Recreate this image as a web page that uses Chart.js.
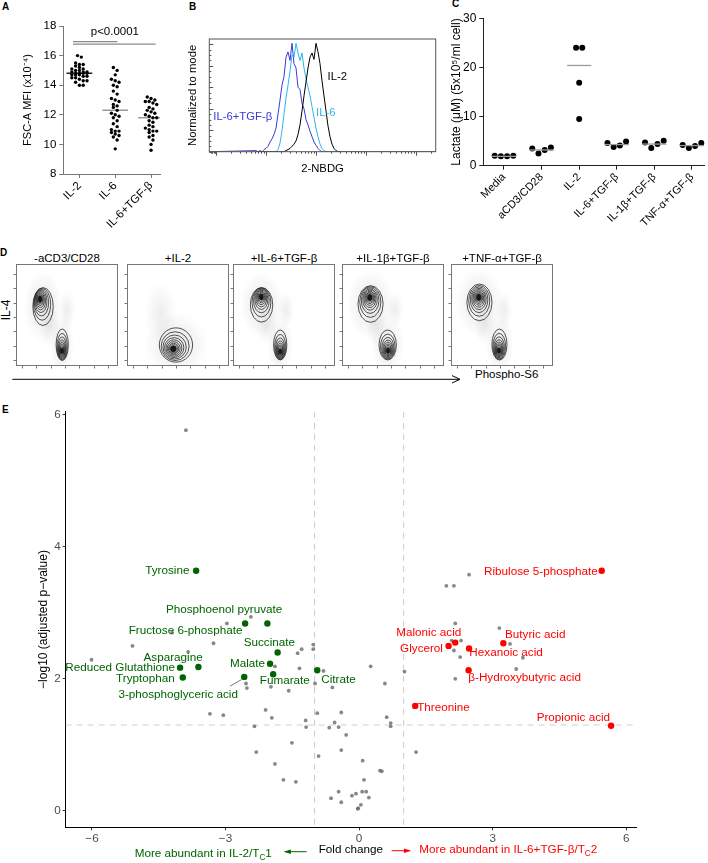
<!DOCTYPE html>
<html>
<head>
<meta charset="utf-8">
<title>Figure</title>
<script src="https://cdn.jsdelivr.net/npm/chart.js@4.4.1/dist/chart.umd.min.js"></script>
<style>
  html, body { margin:0; padding:0; background:#fff; }
  body { width:708px; height:863px; position:relative; overflow:hidden; font-family:"Liberation Sans", Arial, Helvetica, sans-serif; }
  canvas { position:absolute; }
  .t { position:absolute; white-space:nowrap; color:#000; line-height:1; }
  .pl { font-weight:bold; font-size:10px; }
  .dt { position:absolute; text-align:center; font-size:11.5px; line-height:14px; white-space:nowrap; }
</style>
</head>
<body>
<div class="t pl" style="left:2px;top:2px">A</div>
<div class="t pl" style="left:189px;top:2px">B</div>
<div class="t pl" style="left:452px;top:-1px">C</div>
<div class="t pl" style="left:0px;top:248px">D</div>
<div class="t pl" style="left:2px;top:405px">E</div>
<div class="t" style="left:-4px;top:304px;font-size:12px;transform:rotate(-90deg);transform-origin:center">IL-4</div>
<svg style="position:absolute;left:0;top:370px" width="470" height="20">
  <line x1="12.3" y1="9.3" x2="459" y2="9.3" stroke="#000" stroke-width="1"/>
  <polyline points="452,5.6 460,9.3 452,13" fill="none" stroke="#000" stroke-width="1"/>
</svg>
<div class="t" style="left:475px;top:369px;font-size:11.5px">Phospho-S6</div>
<script>
// ================= DATA =================
// Panel A
const groupsA = ['IL-2', 'IL-6', 'IL-6+TGF-β'];
const yTicksA = [8, 10, 12, 14, 16, 18];
const fscIL2 = [16.0,15.9,15.5,15.4,15.4,15.3,15.2,15.1,15.1,15.0,15.0,14.9,14.9,14.9,14.8,14.8,14.8,14.8,14.7,14.7,14.7,14.6,14.6,14.5,14.5,14.4,14.3,14.3,14.2,14.0,14.0];
const fscIL6 = [15.2,15.0,14.7,14.4,14.3,14.2,14.0,13.9,13.6,13.4,13.1,13.0,12.9,12.7,12.6,12.5,12.3,12.1,12.0,11.9,11.8,11.6,11.4,11.2,11.0,10.9,10.9,10.8,10.7,10.6,10.5,10.3,9.7];
const fscIL6TGFb = [13.2,13.1,13.0,12.9,12.9,12.8,12.7,12.5,12.4,12.3,12.2,12.1,12.0,11.9,11.8,11.8,11.6,11.5,11.3,11.2,11.1,11.0,10.9,10.9,10.8,10.6,10.5,10.3,10.0,9.6];
const meanA = [14.8, 12.3, 11.8];
const pTextA = 'p<0.0001';

// Panel B (2-NBDG histograms, x = log10 fluorescence, y = % of mode)
const nbdgLog = [0.80,0.84,0.88,0.92,0.96,1.00,1.04,1.08,1.12,1.16,1.20,1.24,1.28,1.32,1.36,1.40,1.44,1.48,1.52,1.56,1.60,1.64,1.68,1.72,1.76,1.80,1.84,1.88,1.92,1.96,2.00,2.04,2.08,2.12,2.16,2.20,2.24,2.28,2.32,2.36,2.40,2.44,2.48];
const histIL6TGFb = [1,0,1,0,2,3,5,9,12,16,22,35,48,62,70,88,93,85,101,82,78,60,58,45,40,30,25,19,14,9,6,3,1,0,0,0,0,0,0,0,0,0,0];
const histIL6 = [0,0,0,0,0,0,0,0,0,0,0,2,8,20,35,50,62,75,90,88,101,92,85,92,78,68,60,52,42,32,22,14,7,3,1,0,0,0,0,0,0,0,0];
const histIL2 = [0,0,0,0,0,0,0,0,0,0,0,0,0,0,0,1,2,3,5,7,10,16,25,38,52,65,78,88,92,86,101,93,82,66,52,38,24,14,7,3,1,0,0];
const histNames = ['IL-2', 'IL-6', 'IL-6+TGF-β'];

// Panel C
const groupsC = ['Media', 'aCD3/CD28', 'IL-2', 'IL-6+TGF-β', 'IL-1β+TGF-β', 'TNF-α+TGF-β'];
const yTicksC = [0, 10, 20, 30];
const lactMedia = [2.0, 1.9, 1.9, 2.0];
const lactCD3 = [3.5, 2.5, 3.2, 3.7];
const lactIL2 = [24.0, 24.0, 16.9, 9.5];
const lactIL6TGFb = [4.6, 3.8, 4.1, 4.9];
const lactIL1bTGFb = [4.7, 3.6, 4.4, 5.1];
const lactTNFaTGFb = [4.2, 3.6, 4.0, 4.6];
const meanC = [1.9, 3.2, 20.4, 4.3, 4.4, 4.1];

// Panel D (contour clusters: coreX, coreY, outerX, outerY, spreadX, spreadY in % of axis)
const flowTitles = ['-aCD3/CD28', '+IL-2', '+IL-6+TGF-β', '+IL-1β+TGF-β', '+TNF-α+TGF-β'];
const flowClusters = [
  [[23.5, 65.7, 26.5, 58.3, 10.0, 18.6], [45.0, 14.7, 45.3, 20.8, 6.0, 15.5]],
  [[45.4, 16.7, 48.0, 20.6, 16.3, 16.8]],
  [[27.7, 68.0, 28.0, 60.0, 11.0, 17.0], [46.3, 14.0, 46.3, 20.6, 6.5, 14.7]],
  [[27.2, 67.4, 28.0, 60.8, 12.3, 18.0], [45.1, 15.0, 44.8, 20.6, 8.5, 14.7]],
  [[27.2, 67.4, 27.9, 62.4, 12.3, 18.0], [46.9, 15.0, 47.5, 21.0, 7.4, 15.2]]
];
// sparse event clouds (centreX, centreY, spreadX, spreadY in % of axis)
const flowClouds = [
  [[33, 40, 10, 22], [50, 55, 8, 20]],
  [[33, 52, 16, 30]],
  [[33, 40, 10, 20], [52, 55, 8, 18]],
  [[33, 40, 10, 20], [52, 55, 8, 18]],
  [[33, 40, 10, 20], [52, 55, 8, 18]]
];

// Panel E (volcano)
const xTicksE = [-6, -3, 0, 3, 6];
const yTicksE = [0, 2, 4, 6];
const fcCut = [-1, 1];
const pCut = 1.3;
const grayFC = [-3.89,-2.43,-2.97,-4.20,-5.09,-3.27,-3.84,-6.01,-1.29,-1.38,-1.03,-1.03,-1.89,-1.34,-0.80,-2.54,-2.52,-1.98,-1.58,-0.99,-0.60,-3.35,-3.05,-2.10,-1.96,-2.35,-1.20,-1.19,-0.94,-0.40,-0.55,-0.67,-0.46,-0.29,-2.31,-1.51,-0.91,-0.40,-1.89,-1.70,-1.42,-0.63,-0.46,-0.40,-0.16,-0.07,-0.02,0.26,0.58,1.02,0.62,0.71,0.71,1.28,0.08,0.47,0.51,0.11,0.07,0.16,0.22,0.04,-0.03,1.96,2.13,2.47,2.16,3.15,2.08,2.29,2.13,3.39,2.27,3.68,3.53,2.16];
const grayP = [5.77,2.94,2.84,2.70,2.50,2.54,2.41,2.29,2.45,2.39,2.45,2.52,2.19,2.16,2.12,1.93,1.86,1.88,1.82,1.93,1.87,1.47,1.45,1.53,1.41,1.28,1.37,1.27,1.48,1.49,1.34,1.26,1.27,1.15,0.89,1.03,0.83,0.92,0.71,0.47,0.44,0.19,0.29,0.13,0.23,0.26,0.04,2.19,1.93,2.11,1.42,1.33,1.28,0.89,0.76,0.61,0.60,0.47,0.29,0.29,0.20,0.09,0.03,3.41,3.41,3.58,2.84,2.77,2.58,2.58,2.43,2.53,2.33,2.32,2.15,2.00];
const greenNames = ['Tyrosine','Fructose 6-phosphate','Phosphoenol pyruvate','Succinate','Asparagine','Reduced Glutathione','Malate','Tryptophan','Fumarate','Citrate','3-phosphoglyceric acid'];
const greenFC = [-3.66,-2.56,-2.06,-1.83,-3.61,-4.02,-2.00,-3.96,-1.93,-0.94,-2.58];
const greenP = [3.64,2.84,2.84,2.40,2.18,2.17,2.23,2.02,2.07,2.13,2.03];
const redNames = ['Ribulose 5-phosphate','Malonic acid','Glycerol','Butyric acid','Hexanoic acid','β-Hydroxybutyric acid','Threonine','Propionic acid'];
const redFC = [5.45,2.16,2.01,3.24,2.47,2.46,1.26,5.66];
const redP = [3.64,2.55,2.50,2.54,2.46,2.13,1.59,1.29];

// label placement (align, dx px, dy px) – layout only
const greenLab = [['right',-6.7,0],['right',-2.7,7.7],['center',-43.3,-13.3],['center',-8.3,-10],['center',-25.3,-9.6],['right',-5,0.3],['right',-5,0],['right',-8,1.3],['center',11.7,7],['left',4,9.3],['right',-6.3,18]];
const redLab = [['right',-4,1.3],['center',-26.5,-9.4],['right',-5.6,3],['left',1.7,-8.7],['left',0.3,4.4],['left',-0.3,7.7],['left',2,1.7],['right',-1,-7.7]];

// ================= HELPERS =================
const FONT = '"Liberation Sans", Arial, Helvetica, sans-serif';
Chart.defaults.font.family = FONT;
Chart.defaults.color = '#000';
Chart.defaults.animation = false;
Chart.defaults.plugins.legend.display = false;
Chart.defaults.plugins.tooltip.enabled = false;

function cv(left, top, w, h) {
  const c = document.createElement('canvas');
  c.width = w; c.height = h;
  c.style.left = left + 'px'; c.style.top = top + 'px';
  c.style.width = w + 'px'; c.style.height = h + 'px';
  document.body.appendChild(c);
  return c;
}
const fixTicks = arr => s => { s.ticks = arr.map(v => ({ value: v })); };
const fitW = w => s => { s.width = w; };
const fitH = h => s => { s.height = h; };

function rowsLayout(vals, rowH, sep, maxPerRow) {
  const idx = vals.map((v, i) => i).sort((a, b) => vals[a] - vals[b] || a - b);
  const off = new Array(vals.length).fill(0);
  let row = [], start = null;
  const flush = () => {
    row.sort((a, b) => a - b);
    row.forEach((i, j) => { off[i] = (j - (row.length - 1) / 2) * sep; });
    row = [];
  };
  idx.forEach(i => {
    if (start === null || vals[i] - start >= rowH || row.length >= maxPerRow) { flush(); start = vals[i]; }
    row.push(i);
  });
  flush();
  return off;
}

function drawSubText(ctx, parts, x, y, align, size, color) {
  ctx.save();
  ctx.fillStyle = color; ctx.textBaseline = 'middle';
  const w = parts.map(p => { ctx.font = (p.sub ? size * 0.7 : size) + 'px ' + FONT; return ctx.measureText(p.t).width; });
  const total = w.reduce((a, b) => a + b, 0);
  let cx = align === 'right' ? x - total : (align === 'center' ? x - total / 2 : x);
  ctx.textAlign = 'left';
  parts.forEach((p, i) => {
    ctx.font = (p.sub ? size * 0.7 : size) + 'px ' + FONT;
    ctx.fillText(p.t, cx, p.sub ? y + size * 0.3 : y);
    cx += w[i];
  });
  ctx.restore();
}

const axisStyle = (col) => ({
  grid: { display: true, drawOnChartArea: false, drawTicks: true, tickLength: 4, color: col, lineWidth: 1 },
  border: { display: true, color: col, width: 1 }
});

// ================= PANEL A =================
(function () {
  const c = cv(0, 0, 170, 245);
  const valsA = [fscIL2, fscIL6, fscIL6TGFb];
  const xpu = 35.8, ypu = 14.8;
  const ds = [];
  valsA.forEach((vals, g) => {
    const off = rowsLayout(vals, 3.6 / ypu, 3.8 / xpu, 5);
    ds.push({ data: vals.map((v, i) => ({ x: g + off[i], y: v })), pointRadius: 1.7, pointBackgroundColor: '#000', pointBorderWidth: 0 });
  });
  meanA.forEach((m, g) => {
    ds.push({ data: [{ x: g - 0.36, y: m }, { x: g + 0.36, y: m }], showLine: true, pointRadius: 0, borderColor: g === 0 ? '#222' : '#9a9a9a', borderWidth: 1.5 });
  });
  ds.push({ data: [{ x: -0.18, y: 16.94 }, { x: 1.06, y: 16.94 }], showLine: true, pointRadius: 0, borderColor: '#8a8a8a', borderWidth: 1.2 });
  ds.push({ data: [{ x: -0.18, y: 16.78 }, { x: 2.13, y: 16.78 }], showLine: true, pointRadius: 0, borderColor: '#8a8a8a', borderWidth: 1.2 });
  new Chart(c, {
    type: 'scatter',
    data: { datasets: ds },
    options: {
      responsive: false,
      layout: { padding: { left: 0, top: 26, right: 10, bottom: 0 } },
      scales: {
        x: Object.assign({ type: 'linear', min: -0.45, max: 2.25, afterBuildTicks: fixTicks([0, 1, 2]), afterFit: fitH(71),
          ticks: { callback: v => groupsA[v], minRotation: 45, maxRotation: 45, autoSkip: false, font: { size: 11.5 }, color: '#000', padding: 1 } }, axisStyle('#777')),
        y: Object.assign({ min: 8, max: 18, afterBuildTicks: fixTicks(yTicksA), afterFit: fitW(63.3),
          ticks: { font: { size: 11.5 }, color: '#000', padding: 3 },
          title: { display: true, text: 'FSC-A MFI (x10⁻⁴)', font: { size: 11 }, color: '#000', padding: { top: 21.4, bottom: 0 } } }, axisStyle('#777'))
      }
    },
    plugins: [{
      id: 'pA',
      afterDraw(ch) {
        const { ctx, scales: { x, y } } = ch;
        ctx.save();
        ctx.font = '11.5px ' + FONT; ctx.fillStyle = '#000'; ctx.textAlign = 'center'; ctx.textBaseline = 'middle';
        ctx.fillText(pTextA, x.getPixelForValue(0.99), y.getPixelForValue(17.6));
        ctx.restore();
      }
    }]
  });
})();

// ================= PANEL B =================
(function () {
  const c = cv(170, 0, 280, 185);
  const xMin = -0.134, xMax = 4.394;
  const series = [histIL2, histIL6, histIL6TGFb];
  const colors = ['#000000', '#2cb7ec', '#3a3ad6'];
  const ds = series.map((h, k) => {
    const pts = nbdgLog.map((d, i) => ({ x: d, y: h[i] }));
    if (k === 2) { pts.unshift({ x: xMin, y: 0 }); pts.push({ x: xMax, y: 0 }); }
    return { data: pts, showLine: true, pointRadius: 0, borderColor: colors[k], borderWidth: 1, tension: 0 };
  });
  new Chart(c, {
    type: 'scatter',
    data: { datasets: ds },
    options: {
      responsive: false,
      layout: { padding: { left: 0, top: 39, right: 14.3, bottom: 0 } },
      scales: {
        x: { type: 'linear', min: xMin, max: xMax, afterFit: fitH(33.3), ticks: { display: false }, grid: { display: false }, border: { display: false },
          title: { display: true, text: '2-NBDG', font: { size: 11.3 }, color: '#000', padding: { top: 0, bottom: 9.8 } } },
        y: { min: 0, max: 105, afterFit: fitW(39.3), ticks: { display: false }, grid: { display: false }, border: { display: false },
          title: { display: true, text: 'Normalized to mode', font: { size: 11.3 }, color: '#000', padding: { top: 16.5, bottom: 0 } } }
      }
    },
    plugins: [{
      id: 'pB',
      afterDraw(ch) {
        const { ctx, chartArea: a, scales: { x, y } } = ch;
        ctx.save();
        ctx.strokeStyle = '#555'; ctx.lineWidth = 1;
        ctx.strokeRect(a.left, a.top, a.right - a.left, a.bottom - a.top);
        ctx.beginPath();
        for (let v = 0; v <= 100; v += 5) {
          const py = Math.round(y.getPixelForValue(v)) + 0.5;
          const L = v % 20 === 0 ? 4 : 2;
          ctx.moveTo(a.left, py); ctx.lineTo(a.left + L, py);
        }
        for (let d = 0; d <= 4; d++) {
          for (let m = 1; m <= 9; m++) {
            const v = d + Math.log10(m);
            if (v > x.max) continue;
            const px = Math.round(x.getPixelForValue(v)) + 0.5;
            const L = m === 1 ? 4 : 2;
            ctx.moveTo(px, a.bottom); ctx.lineTo(px, a.bottom + L);
          }
        }
        for (let k = 1; k <= 4; k++) {
          const px = Math.round(x.getPixelForValue(-0.134 + k * 0.03)) + 0.5;
          ctx.moveTo(px, a.bottom); ctx.lineTo(px, a.bottom + 2);
        }
        ctx.stroke();
        ctx.font = '11.3px ' + FONT; ctx.textBaseline = 'middle'; ctx.textAlign = 'left';
        ctx.fillStyle = colors[2]; ctx.fillText(histNames[2], x.getPixelForValue(-0.054), y.getPixelForValue(32.6));
        ctx.fillStyle = colors[1]; ctx.fillText(histNames[1], x.getPixelForValue(2.0), y.getPixelForValue(36));
        ctx.fillStyle = colors[0]; ctx.fillText(histNames[0], x.getPixelForValue(2.23), y.getPixelForValue(69.6));
        ctx.restore();
      }
    }]
  });
})();

// ================= PANEL C =================
(function () {
  const c = cv(440, 0, 268, 255);
  const valsC = [lactMedia, lactCD3, lactIL2, lactIL6TGFb, lactIL1bTGFb, lactTNFaTGFb];
  const ds = [];
  valsC.forEach((vals, g) => {
    const off = rowsLayout(vals, 1.62, 0.165, 6);
    ds.push({ data: vals.map((v, i) => ({ x: g + off[i], y: v })), pointRadius: 3, pointBackgroundColor: '#000', pointBorderWidth: 0, clip: false });
  });
  meanC.forEach((m, g) => {
    ds.push({ data: [{ x: g - 0.32, y: m }, { x: g + 0.32, y: m }], showLine: true, pointRadius: 0, borderColor: '#9a9a9a', borderWidth: 1.3, clip: false });
  });
  new Chart(c, {
    type: 'scatter',
    data: { datasets: ds.slice(6).concat(ds.slice(0, 6)) },
    options: {
      responsive: false,
      layout: { padding: { left: 0, top: 18.3, right: 4, bottom: 0 } },
      scales: {
        x: Object.assign({ type: 'linear', min: -0.55, max: 5.32, afterBuildTicks: fixTicks([0, 1, 2, 3, 4, 5]), afterFit: fitH(89.3),
          ticks: { callback: v => groupsC[v], minRotation: 45, maxRotation: 45, autoSkip: false, font: { size: 11 }, color: '#000', padding: 1 } }, axisStyle('#222')),
        y: Object.assign({ min: 0, max: 30, afterBuildTicks: fixTicks(yTicksC), afterFit: fitW(43.3),
          ticks: { font: { size: 12 }, color: '#000', padding: 3 },
          title: { display: true, text: 'Lactate (μM) (5x10⁵/ml cell)', font: { size: 12 }, color: '#000', padding: { top: 9.5, bottom: 0 } } }, axisStyle('#222'))
      }
    }
  });
})();

// ================= PANEL D =================
(function () {
  const boxLeft = [16, 127, 233, 342, 451];
  const contourScales = [1, 0.84, 0.7, 0.58, 0.48, 0.39, 0.31, 0.24, 0.18, 0.13, 0.09];
  flowTitles.forEach((title, i) => {
    const t = document.createElement('div');
    t.className = 'dt'; t.textContent = title;
    t.style.left = boxLeft[i] + 'px'; t.style.width = '102px'; t.style.top = '251px';
    document.body.appendChild(t);
    const c = cv(boxLeft[i] - 4, 260, 110, 110);
    new Chart(c, {
      type: 'scatter',
      data: { datasets: [{ data: flowClusters[i].map(k => ({ x: k[0], y: k[1] })), pointRadius: 0 }] },
      options: {
        responsive: false,
        layout: { padding: 4 },
        scales: { x: { display: false, min: 0, max: 100 }, y: { display: false, min: 0, max: 100 } }
      },
      plugins: [{
        id: 'pD' + i,
        afterDatasetsDraw(ch) {
          const { ctx, chartArea: a, scales: { x, y } } = ch;
          const ux = Math.abs(x.getPixelForValue(1) - x.getPixelForValue(0));
          const uy = Math.abs(y.getPixelForValue(1) - y.getPixelForValue(0));
          const blob = (bx, by, rx, ry, alpha) => {
            ctx.save();
            ctx.translate(x.getPixelForValue(bx), y.getPixelForValue(by)); ctx.scale(1, (ry * uy) / (rx * ux));
            const R = rx * ux;
            const g = ctx.createRadialGradient(0, 0, 0, 0, 0, R);
            g.addColorStop(0, 'rgba(0,0,0,' + alpha + ')'); g.addColorStop(1, 'rgba(0,0,0,0)');
            ctx.fillStyle = g; ctx.beginPath(); ctx.arc(0, 0, R, 0, 2 * Math.PI); ctx.fill();
            ctx.restore();
          };
          ctx.save();
          ctx.beginPath(); ctx.rect(a.left, a.top, a.right - a.left, a.bottom - a.top); ctx.clip();
          flowClouds[i].forEach(k => blob(k[0], k[1], k[2], k[3], 0.07));
          flowClusters[i].forEach(k => {
            const [cx, cy, ox, oy, rx, ry] = k;
            blob(ox, oy, rx * 1.9, ry * 1.9, 0.1);
            contourScales.forEach(s => {
              const w = s * s;
              const ex = x.getPixelForValue(cx + (ox - cx) * w), ey = y.getPixelForValue(cy + (oy - cy) * w);
              ctx.beginPath(); ctx.ellipse(ex, ey, Math.max(rx * ux * s, 1), Math.max(ry * uy * s, 1), 0, 0, 2 * Math.PI);
              if (s < 0.2) { ctx.fillStyle = '#151515'; ctx.fill(); }
              ctx.strokeStyle = '#1a1a1a'; ctx.lineWidth = 0.75; ctx.stroke();
            });
          });
          ctx.restore();
          ctx.save();
          ctx.strokeStyle = '#777'; ctx.lineWidth = 1;
          ctx.strokeRect(a.left + 0.5, a.top + 0.5, a.right - a.left - 1, a.bottom - a.top - 1);
          ctx.beginPath();
          for (let v = 6; v < 100; v += 14) {
            const py = Math.round(y.getPixelForValue(v)) + 0.5, px = Math.round(x.getPixelForValue(v)) + 0.5;
            ctx.moveTo(a.left, py); ctx.lineTo(a.left - 2.5, py);
            ctx.moveTo(px, a.bottom); ctx.lineTo(px, a.bottom + 2.5);
          }
          ctx.stroke();
          ctx.restore();
        }
      }]
    });
  });
})();

// ================= PANEL E =================
(function () {
  const c = cv(0, 395, 708, 468);
  const fs = 11.7;
  new Chart(c, {
    type: 'scatter',
    data: {
      datasets: [
        { data: redFC.map((v, i) => ({ x: v, y: redP[i] })), pointRadius: 3.2, pointBackgroundColor: '#ff0000', pointBorderWidth: 0 },
        { data: greenFC.map((v, i) => ({ x: v, y: greenP[i] })), pointRadius: 3.2, pointBackgroundColor: '#006400', pointBorderWidth: 0 },
        { data: grayFC.map((v, i) => ({ x: v, y: grayP[i] })), pointRadius: 1.9, pointBackgroundColor: 'rgba(105,105,105,0.8)', pointBorderWidth: 0 }
      ]
    },
    options: {
      responsive: false,
      layout: { padding: { left: 0, top: 16.7, right: 72, bottom: 0 } },
      scales: {
        x: { type: 'linear', min: -6.59, max: 6.22, afterBuildTicks: fixTicks(xTicksE), afterFit: fitH(35.7),
          ticks: { callback: v => (v < 0 ? '−' + Math.abs(v) : String(v)), font: { size: fs }, color: '#4d4d4d', padding: 1 },
          grid: { display: true, drawOnChartArea: false, drawTicks: true, tickLength: 3, color: '#333', lineWidth: 1 },
          border: { display: true, color: '#000', width: 1 },
          title: { display: true, text: 'Fold change', font: { size: fs }, color: '#000', padding: { top: 0, bottom: 5.8 } } },
        y: { min: -0.25, max: 6.05, afterBuildTicks: fixTicks(yTicksE), afterFit: fitW(65.7),
          ticks: { font: { size: fs }, color: '#4d4d4d', padding: 2 },
          grid: { display: true, drawOnChartArea: false, drawTicks: true, tickLength: 3, color: '#333', lineWidth: 1 },
          border: { display: true, color: '#000', width: 1 },
          title: { display: true, text: '−log10 (adjusted p−value)', font: { size: 12 }, color: '#000', padding: { top: 36.6, bottom: 0 } } }
      }
    },
    plugins: [{
      id: 'pE',
      beforeDatasetsDraw(ch) {
        const { ctx, chartArea: a, scales: { x, y } } = ch;
        ctx.save();
        ctx.strokeStyle = '#cfcfcf'; ctx.lineWidth = 1.1; ctx.setLineDash([6, 5]);
        ctx.beginPath();
        fcCut.forEach(v => { const px = x.getPixelForValue(v); ctx.moveTo(px, a.top); ctx.lineTo(px, a.bottom); });
        const py = y.getPixelForValue(pCut); ctx.moveTo(a.left, py); ctx.lineTo(a.right, py);
        ctx.stroke();
        ctx.restore();
      },
      afterDatasetsDraw(ch) {
        const { ctx, chartArea: a, scales: { x, y } } = ch;
        ctx.save();
        ctx.font = fs + 'px ' + FONT; ctx.textBaseline = 'middle';
        const put = (names, fc, p, lab, color) => {
          ctx.fillStyle = color;
          names.forEach((n, i) => {
            const px = x.getPixelForValue(fc[i]), py = y.getPixelForValue(p[i]);
            ctx.textAlign = lab[i][0];
            ctx.fillText(n, px + lab[i][1], py + lab[i][2]);
          });
        };
        put(greenNames, greenFC, greenP, greenLab, '#006400');
        put(redNames, redFC, redP, redLab, '#ff0000');
        const k = greenNames.indexOf('3-phosphoglyceric acid');
        const lx = x.getPixelForValue(greenFC[k]), ly = y.getPixelForValue(greenP[k]);
        ctx.strokeStyle = '#555'; ctx.lineWidth = 0.8;
        ctx.beginPath(); ctx.moveTo(lx - 14.3, ly + 9.3); ctx.lineTo(lx - 2.8, ly + 2.8); ctx.stroke();
        const cx = (a.left + a.right) / 2, yb = a.bottom;
        drawSubText(ctx, [{ t: 'More abundant in IL-2/T' }, { t: 'C', sub: true }, { t: '1' }], cx - 79, yb + 26.5, 'right', fs, '#006400');
        drawSubText(ctx, [{ t: 'More abundant in IL-6+TGF-β/T' }, { t: 'C', sub: true }, { t: '2' }], cx + 68.4, yb + 22.8, 'left', fs, '#ff0000');
        const arrow = (x1, x2, yy, col) => {
          ctx.strokeStyle = col; ctx.fillStyle = col; ctx.lineWidth = 1;
          ctx.beginPath(); ctx.moveTo(x1, yy); ctx.lineTo(x2, yy); ctx.stroke();
          const dir = Math.sign(x2 - x1);
          ctx.beginPath(); ctx.moveTo(x2 + dir * 1, yy); ctx.lineTo(x2 - dir * 6, yy - 2.3); ctx.lineTo(x2 - dir * 6, yy + 2.3); ctx.closePath(); ctx.fill();
        };
        arrow(cx - 44.2, cx - 66, yb + 24.4, '#006400');
        arrow(cx + 40.8, cx + 59.1, yb + 23.4, '#ff0000');
        ctx.restore();
      }
    }]
  });
})();
</script>
</body>
</html>
